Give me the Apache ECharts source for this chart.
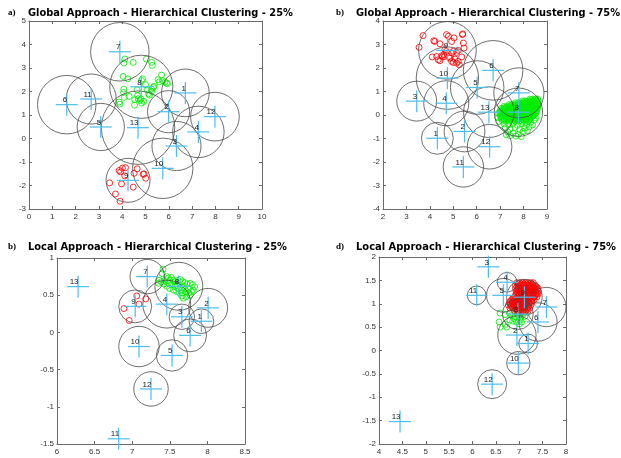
<!DOCTYPE html>
<html>
<head>
<meta charset="utf-8">
<script src="https://cdn.jsdelivr.net/npm/echarts@6/dist/echarts.min.js"></script>
<style>
html,body{margin:0;padding:0;background:#fff;}
#chart{width:621px;height:458px;}
</style>
</head>
<body>
<div id="chart"></div>
<script>
// Cluster centres per panel: [id, x, y, radius]; radius 0 = centre drawn without a circle
const A_CENTERS = [
  [1, 6.71, 1.94, 1.02], [2, 5.99, 1.14, 0.90], [3, 6.33, -0.32, 1.05],
  [4, 7.27, 0.28, 1.10], [5, 3.08, 0.49, 1.01], [6, 1.62, 1.44, 1.25],
  [7, 3.90, 3.69, 1.25], [8, 4.82, 2.20, 1.35], [9, 4.25, -1.78, 0.94],
  [10, 5.74, -1.27, 1.29], [11, 2.67, 1.68, 1.07], [12, 7.98, 0.93, 1.04],
  [13, 4.68, 0.46, 1.57]
];
const B_CENTERS = [
  [1, 4.32, -0.99, 0.68], [2, 5.48, -0.70, 0.87], [3, 3.44, 0.59, 0.85],
  [4, 4.70, 0.50, 0.96], [5, 6.02, 1.17, 1.14], [6, 6.70, 1.90, 1.27],
  [7, 7.80, 0.94, 1.07], [8, 7.78, 0.12, 1.03], [9, 4.75, 2.75, 1.23],
  [10, 4.75, 1.57, 1.33], [11, 5.43, -2.21, 0.86], [12, 6.55, -1.35, 0.95],
  [13, 6.52, 0.12, 1.08]
];
const C_CENTERS = [
  [1, 7.92, 0.15, 0.165], [2, 8.01, 0.33, 0.26], [3, 7.66, 0.21, 0.17],
  [4, 7.46, 0.38, 0.32], [5, 7.53, -0.31, 0.21], [6, 7.77, -0.04, 0.22],
  [7, 7.20, 0.75, 0.23], [8, 7.62, 0.62, 0.32], [9, 7.04, 0.35, 0.22],
  [10, 7.09, -0.19, 0.27], [11, 6.82, -1.43, 0], [12, 7.25, -0.76, 0.23],
  [13, 6.28, 0.615, 0]
];
const D_CENTERS = [
  [1, 7.19, 0.15, 0.20], [2, 6.95, 0.33, 0.41], [3, 6.34, 1.79, 0],
  [4, 6.74, 1.46, 0.21], [5, 6.66, 1.18, 0.36], [6, 7.40, 0.61, 0.41],
  [7, 7.58, 0.93, 0.42], [8, 6.97, 0.78, 0.33], [9, 7.11, 1.14, 0.38],
  [10, 6.98, -0.27, 0.25], [11, 6.09, 1.18, 0.20], [12, 6.42, -0.72, 0.31],
  [13, 4.45, -1.52, 0]
];

// Observations of the two labelled classes
const A_GREEN = [
  [4.11,3.38],[4.07,3.21],[4.47,3.24],[5.04,3.38],[5.26,3.24],[5.29,3.11],
  [4.04,2.64],[4.24,2.54],[4.87,2.54],[4.83,2.47],[5.69,2.70],[5.54,2.50],
  [5.59,2.41],[5.83,2.41],[5.90,2.36],[5.94,2.33],[5.33,2.17],[5.26,2.10],
  [5.00,2.29],[4.64,2.07],[4.07,2.10],[4.06,1.96],[4.09,1.75],[3.87,1.55],
  [3.90,1.46],[4.30,1.79],[4.54,1.65],[4.66,1.82],[4.69,1.69],[4.76,1.62],
  [4.81,1.68],[4.83,1.51],[4.93,1.58],[4.53,1.42],[5.17,1.85],[5.26,2.00],
  [5.36,2.22],[5.07,2.07],[5.13,1.90],[5.73,2.46]
];
const A_RED = [
  [4.14,-1.24],[3.87,-1.36],[3.93,-1.42],[4.01,-1.26],[4.64,-1.29],[4.90,-1.52],
  [4.94,-1.51],[5.01,-1.69],[4.51,-1.48],[3.46,-1.89],[3.97,-1.93],[3.71,-2.36],
  [3.91,-2.67],[4.47,-2.07],[4.11,-1.59]
];
const B_RED = [
  [3.71,3.38],[3.54,2.88],[4.17,3.16],[4.21,3.13],[4.43,3.03],[4.71,3.42],
  [4.79,3.35],[5.40,3.45],[5.39,3.42],[5.03,3.28],[4.93,3.13],[5.43,3.06],
  [5.46,2.85],[5.21,2.75],[5.00,2.71],[4.93,2.64],[4.64,2.78],[4.60,2.57],
  [4.63,2.49],[4.54,2.47],[4.50,2.52],[4.29,2.49],[4.10,2.47],[4.36,2.35],
  [4.43,2.31],[4.86,2.42],[4.93,2.28],[5.07,2.38],[5.21,2.28],[5.36,2.47],
  [5.26,2.13],[5.14,2.21],[5.00,2.24],[4.81,2.49],[5.14,2.66],[4.71,2.71]
];
const B_GREEN = [
  [8.28,0.68],[8.40,0.68],[8.52,0.68],[8.60,0.68],
  [7.95,0.60],[8.07,0.60],[8.19,0.60],[8.31,0.60],[8.43,0.60],[8.55,0.60],[8.63,0.60],
  [7.65,0.52],[7.77,0.52],[7.89,0.52],[8.01,0.52],[8.13,0.52],[8.25,0.52],[8.37,0.52],[8.49,0.52],[8.61,0.52],
  [7.38,0.44],[7.50,0.44],[7.62,0.44],[7.74,0.44],[7.86,0.44],[7.98,0.44],[8.10,0.44],[8.22,0.44],[8.34,0.44],[8.46,0.44],[8.58,0.44],
  [7.16,0.36],[7.28,0.36],[7.40,0.36],[7.52,0.36],[7.64,0.36],[7.76,0.36],[7.88,0.36],[8.00,0.36],[8.12,0.36],[8.24,0.36],[8.36,0.36],[8.48,0.36],[8.60,0.36],
  [7.04,0.28],[7.16,0.28],[7.28,0.28],[7.40,0.28],[7.52,0.28],[7.64,0.28],[7.76,0.28],[7.88,0.28],[8.00,0.28],[8.12,0.28],[8.24,0.28],[8.36,0.28],[8.48,0.28],[8.60,0.28],
  [7.00,0.19],[7.12,0.19],[7.24,0.19],[7.36,0.19],[7.48,0.19],[7.60,0.19],[7.72,0.19],[7.84,0.19],[7.96,0.19],[8.08,0.19],[8.20,0.19],[8.32,0.19],[8.44,0.19],[8.56,0.19],
  [6.98,0.10],[7.10,0.10],[7.22,0.10],[7.34,0.10],[7.46,0.10],[7.58,0.10],[7.70,0.10],[7.82,0.10],[7.94,0.10],[8.06,0.10],[8.18,0.10],[8.30,0.10],[8.42,0.10],[8.54,0.10],
  [7.00,0.01],[7.12,0.01],[7.24,0.01],[7.36,0.01],[7.48,0.01],[7.60,0.01],[7.72,0.01],[7.84,0.01],[7.96,0.01],[8.08,0.01],[8.20,0.01],[8.32,0.01],[8.44,0.01],
  [7.02,-0.08],[7.14,-0.08],[7.26,-0.08],[7.38,-0.08],[7.50,-0.08],[7.62,-0.08],[7.74,-0.08],[7.86,-0.08],[7.98,-0.08],[8.10,-0.08],[8.22,-0.08],[8.34,-0.08],
  [7.05,-0.17],[7.17,-0.17],[7.29,-0.17],[7.41,-0.17],[7.53,-0.17],[7.65,-0.17],[7.77,-0.17],[7.89,-0.17],[8.01,-0.17],[8.13,-0.17],[8.25,-0.17],
  [7.10,-0.26],[7.24,-0.26],[7.38,-0.26],[7.52,-0.26],[7.66,-0.26],[7.80,-0.26],[7.94,-0.26],[8.08,-0.26],[8.20,-0.26],
  [8.34,0.64],[8.46,0.64],[8.01,0.56],[8.13,0.56],[8.25,0.56],[8.37,0.56],[8.49,0.56],[7.71,0.48],[7.83,0.48],
  [7.95,0.48],[8.07,0.48],[8.19,0.48],[8.31,0.48],[8.43,0.48],[8.55,0.48],[7.44,0.40],[7.56,0.40],[7.68,0.40],
  [7.80,0.40],[7.92,0.40],[8.04,0.40],[8.16,0.40],[8.28,0.40],[8.40,0.40],[8.52,0.40],[7.22,0.32],[7.34,0.32],
  [7.46,0.32],[7.58,0.32],[7.70,0.32],[7.82,0.32],[7.94,0.32],[8.06,0.32],[8.18,0.32],[8.30,0.32],[8.42,0.32],
  [8.54,0.32],[7.10,0.23],[7.22,0.23],[7.34,0.23],[7.46,0.23],[7.58,0.23],[7.70,0.23],[7.82,0.23],[7.94,0.23],
  [8.06,0.23],[8.18,0.23],[8.30,0.23],[8.42,0.23],[8.54,0.23],[7.06,0.14],[7.18,0.14],[7.30,0.14],[7.42,0.14],
  [7.54,0.14],[7.66,0.14],[7.78,0.14],[7.90,0.14],[8.02,0.14],[8.14,0.14],[8.26,0.14],[8.38,0.14],[8.50,0.14],
  [7.06,0.05],[7.18,0.05],[7.30,0.05],[7.42,0.05],[7.54,0.05],[7.66,0.05],[7.78,0.05],[7.90,0.05],[8.02,0.05],
  [8.14,0.05],[8.26,0.05],[8.38,0.05],[8.50,0.05],[7.08,-0.04],[7.20,-0.04],[7.32,-0.04],[7.44,-0.04],[7.56,-0.04],
  [7.68,-0.04],[7.80,-0.04],[7.92,-0.04],[8.04,-0.04],[8.16,-0.04],[8.28,-0.04],[8.40,-0.04],[7.11,-0.13],[7.23,-0.13],
  [7.35,-0.13],[7.47,-0.13],[7.59,-0.13],[7.71,-0.13],[7.83,-0.13],[7.95,-0.13],[8.07,-0.13],[8.19,-0.13],[8.31,-0.13],
  [7.17,-0.22],[7.31,-0.22],[7.45,-0.22],[7.59,-0.22],[7.73,-0.22],[7.87,-0.22],[8.01,-0.22],[8.15,-0.22],
  [7.18,-0.38],[7.36,-0.42],[7.55,-0.36],[7.74,-0.44],[7.92,-0.37],[8.12,-0.40],[8.30,-0.31],[8.45,-0.22],[8.52,-0.12],
  [7.22,-0.55],[7.42,-0.60],[7.63,-0.53],[7.84,-0.62],[8.04,-0.56],[8.24,-0.50],[7.32,-0.72],[7.55,-0.78],
  [7.78,-0.82],[7.98,-0.70],[7.42,-0.88],[7.68,-0.90],[7.26,-0.84],[8.16,-0.66],[6.94,-0.28],[6.90,-0.12],
  [6.92,0.06],[8.38,-0.42],[7.90,-0.92]
];
const C_GREEN = [
  [7.41,0.85],[7.40,0.79],[7.36,0.70],[7.35,0.66],[7.39,0.68],[7.43,0.70],
  [7.48,0.73],[7.52,0.74],[7.55,0.70],[7.57,0.68],[7.61,0.70],[7.64,0.71],
  [7.67,0.68],[7.70,0.67],[7.73,0.65],[7.77,0.66],[7.80,0.64],[7.83,0.61],
  [7.81,0.57],[7.79,0.55],[7.75,0.53],[7.72,0.48],[7.68,0.46],[7.66,0.49],
  [7.63,0.53],[7.59,0.55],[7.55,0.57],[7.50,0.59],[7.46,0.62],[7.42,0.65],
  [7.48,0.66],[7.52,0.64],[7.57,0.62],[7.61,0.59],[7.66,0.57],[7.70,0.58],
  [7.75,0.59],[7.72,0.55],[7.67,0.53],[7.77,0.50],[7.46,0.75],[7.50,0.70],
  [7.59,0.65],[7.68,0.62]
];
const C_RED = [
  [7.06,0.49],[7.18,0.45],[7.09,0.38],[6.89,0.32],[6.96,0.16]
];
const D_GREEN = [
  [6.59,0.80],[6.70,0.77],[6.79,0.80],[6.84,0.75],[6.91,0.72],[6.98,0.73],
  [7.03,0.70],[7.09,0.79],[7.12,0.73],[7.02,0.65],[6.94,0.61],[7.00,0.57],
  [7.05,0.61],[6.89,0.68],[6.57,0.61],[6.70,0.56],[6.59,0.50],[6.73,0.50],
  [6.80,0.65],[6.86,0.63],[7.06,0.82],[6.97,0.80]
];
const D_RED = [
  [6.95,1.45],[7.01,1.45],[7.07,1.45],[7.13,1.45],[7.19,1.45],[7.25,1.45],[7.30,1.45],
  [6.92,1.39],[6.98,1.39],[7.04,1.39],[7.10,1.39],[7.16,1.39],[7.22,1.39],[7.28,1.39],[7.34,1.39],
  [6.92,1.33],[6.98,1.33],[7.04,1.33],[7.10,1.33],[7.16,1.33],[7.22,1.33],[7.28,1.33],[7.34,1.33],[7.40,1.33],
  [6.93,1.27],[6.99,1.27],[7.05,1.27],[7.11,1.27],[7.17,1.27],[7.23,1.27],[7.29,1.27],[7.35,1.27],[7.41,1.27],
  [6.93,1.21],[6.99,1.21],[7.05,1.21],[7.11,1.21],[7.17,1.21],[7.23,1.21],[7.29,1.21],[7.35,1.21],[7.40,1.21],
  [6.90,1.15],[6.96,1.15],[7.02,1.15],[7.08,1.15],[7.14,1.15],[7.20,1.15],[7.26,1.15],[7.32,1.15],[7.38,1.15],
  [6.84,1.09],[6.90,1.09],[6.96,1.09],[7.02,1.09],[7.08,1.09],[7.14,1.09],[7.20,1.09],[7.26,1.09],[7.32,1.09],
  [6.79,1.03],[6.85,1.03],[6.91,1.03],[6.97,1.03],[7.03,1.03],[7.09,1.03],[7.15,1.03],[7.21,1.03],[7.27,1.03],
  [6.77,0.97],[6.83,0.97],[6.89,0.97],[6.95,0.97],[7.01,0.97],[7.07,0.97],[7.13,0.97],[7.19,0.97],[7.25,0.97],
  [6.80,0.91],[6.86,0.91],[6.92,0.91],[6.98,0.91],[7.04,0.91],[7.10,0.91],[7.16,0.91],[7.22,0.91],
  [6.90,0.85],[6.96,0.85],[7.02,0.85],[7.08,0.85],[7.14,0.85],[7.19,0.85],
  [6.98,1.42],[7.04,1.42],[7.10,1.42],[7.16,1.42],[7.22,1.42],[7.28,1.42],[6.95,1.36],[7.01,1.36],
  [7.07,1.36],[7.13,1.36],[7.19,1.36],[7.25,1.36],[7.31,1.36],[7.37,1.36],[6.96,1.30],[7.02,1.30],
  [7.08,1.30],[7.14,1.30],[7.20,1.30],[7.26,1.30],[7.32,1.30],[7.38,1.30],[6.96,1.24],[7.02,1.24],
  [7.08,1.24],[7.14,1.24],[7.20,1.24],[7.26,1.24],[7.32,1.24],[7.38,1.24],[6.93,1.18],[6.99,1.18],
  [7.05,1.18],[7.11,1.18],[7.17,1.18],[7.23,1.18],[7.29,1.18],[7.35,1.18],[6.87,1.12],[6.93,1.12],
  [6.99,1.12],[7.05,1.12],[7.11,1.12],[7.17,1.12],[7.23,1.12],[7.29,1.12],[6.82,1.06],[6.88,1.06],
  [6.94,1.06],[7.00,1.06],[7.06,1.06],[7.12,1.06],[7.18,1.06],[7.24,1.06],[6.80,1.00],[6.86,1.00],
  [6.92,1.00],[6.98,1.00],[7.04,1.00],[7.10,1.00],[7.16,1.00],[7.22,1.00],[6.83,0.94],[6.89,0.94],
  [6.95,0.94],[7.01,0.94],[7.07,0.94],[7.13,0.94],[7.19,0.94],[6.93,0.88],[6.99,0.88],[7.05,0.88],
  [7.11,0.88],[7.17,0.88]
];

// Axis ranges: [xmin, xmax, xstep, ymin, ymax, ystep]
const A_RANGE = [0, 10, 1, -3, 5, 1];
const B_RANGE = [2, 9, 1, -4, 4, 1];
const C_RANGE = [6, 8.5, 0.5, -1.5, 1, 0.5];
const D_RANGE = [4, 8, 0.5, -2, 2, 0.5];

const TITLES = [
  'Global Approach - Hierarchical Clustering - 25%',
  'Global Approach - Hierarchical Clustering - 75%',
  'Local Approach - Hierarchical Clustering - 25%',
  'Local Approach - Hierarchical Clustering - 75%'
];
const TAGS = ['a)', 'b)', 'b)', 'd)'];

const PANELS = [
  { centers: A_CENTERS, green: A_GREEN, red: A_RED, range: A_RANGE,
    box: { left: 29, top: 21, width: 233, height: 188 } },
  { centers: B_CENTERS, green: B_GREEN, red: B_RED, range: B_RANGE,
    box: { left: 383, top: 21, width: 164, height: 188 } },
  { centers: C_CENTERS, green: C_GREEN, red: C_RED, range: C_RANGE,
    box: { left: 57, top: 258, width: 188, height: 186 } },
  { centers: D_CENTERS, green: D_GREEN, red: D_RED, range: D_RANGE,
    box: { left: 379, top: 257, width: 187, height: 187 } }
];

const AXIS_COLOR = '#6a6a6a';
const CROSS_COLOR = '#4DBEEE';
const CIRCLE_COLOR = '#4a4a4a';
const TICK_FONT = { fontSize: 8, color: '#333', fontFamily: 'Liberation Sans, Arial, sans-serif' };
const HEAD_FAMILY = '"DejaVu Sans", Verdana, sans-serif';

function makeAxis(kind, idx, pos, min, max, step, showLabels) {
  return {
    type: 'value', gridIndex: idx, position: pos, min: min, max: max, interval: step,
    splitLine: { show: false },
    axisLine: { show: true, onZero: false, lineStyle: { color: AXIS_COLOR, width: 1 } },
    axisTick: { show: true, inside: true, length: 3, lineStyle: { color: AXIS_COLOR } },
    axisLabel: Object.assign({ show: showLabels, margin: kind === 'x' ? 4 : 3 }, TICK_FONT)
  };
}

function renderCircle(params, api) {
  const r = api.value(2);
  if (!r) return null;
  const c = api.coord([api.value(0), api.value(1)]);
  const s = api.size([r, r]);
  return {
    type: 'circle',
    shape: { cx: c[0], cy: c[1], r: (s[0] + s[1]) / 2 },
    style: { fill: 'none', stroke: CIRCLE_COLOR, lineWidth: 0.8 }
  };
}

function renderCross(params, api) {
  const c = api.coord([api.value(0), api.value(1)]);
  const h = 11;
  return {
    type: 'group',
    children: [
      { type: 'line', shape: { x1: c[0] - h, y1: c[1], x2: c[0] + h, y2: c[1] },
        style: { stroke: CROSS_COLOR, lineWidth: 1.2 } },
      { type: 'line', shape: { x1: c[0], y1: c[1] - h, x2: c[0], y2: c[1] + h },
        style: { stroke: CROSS_COLOR, lineWidth: 1.2 } },
      { type: 'text', x: c[0] + 0.5, y: c[1] - 4.5,
        style: { text: String(api.value(3)), align: 'right', verticalAlign: 'middle',
                 fill: '#222', fontSize: 8, fontFamily: 'Liberation Sans, Arial, sans-serif' } }
    ]
  };
}

const grid = [], xAxis = [], yAxis = [], series = [];
PANELS.forEach(function (p, i) {
  grid.push(Object.assign({ show: false }, p.box));
  const r = p.range;
  xAxis.push(makeAxis('x', i, 'bottom', r[0], r[1], r[2], true));
  xAxis.push(makeAxis('x', i, 'top', r[0], r[1], r[2], false));
  yAxis.push(makeAxis('y', i, 'left', r[3], r[4], r[5], true));
  yAxis.push(makeAxis('y', i, 'right', r[3], r[4], r[5], false));
  const xi = i * 2, yi = i * 2;
  const rows = p.centers.map(function (c) { return [c[1], c[2], c[3], c[0]]; });
  series.push({
    type: 'scatter', xAxisIndex: xi, yAxisIndex: yi, data: p.green, symbol: 'circle', symbolSize: 6,
    itemStyle: { color: 'rgba(0,0,0,0)', borderColor: '#00ee00', borderWidth: 1 }, silent: true, z: 2
  });
  series.push({
    type: 'scatter', xAxisIndex: xi, yAxisIndex: yi, data: p.red, symbol: 'circle', symbolSize: 6,
    itemStyle: { color: 'rgba(0,0,0,0)', borderColor: '#ff0000', borderWidth: 1 }, silent: true, z: 2
  });
  series.push({
    type: 'custom', xAxisIndex: xi, yAxisIndex: yi, data: rows, renderItem: renderCircle, silent: true, z: 3
  });
  series.push({
    type: 'custom', xAxisIndex: xi, yAxisIndex: yi, data: rows, renderItem: renderCross, silent: true, z: 4
  });
});

// Panel headings, squeezed horizontally to their target widths
const HEAD_POS = [[8, 28, 13], [336, 356, 13], [8, 28, 247], [336, 356, 247]];
const HEAD_WIDTH = [265, 264, 259, 260];
const measure = document.createElement('canvas').getContext('2d');
measure.font = 'bold 10px ' + HEAD_FAMILY;
const graphic = [];
TITLES.forEach(function (t, i) {
  const hp = HEAD_POS[i];
  const natural = measure.measureText(t).width || HEAD_WIDTH[i];
  graphic.push({
    type: 'text', x: hp[0], y: hp[2],
    style: { text: TAGS[i], fontSize: 9, fontWeight: 'bold',
             fontFamily: '"Liberation Serif", "Times New Roman", serif',
             fill: '#000', verticalAlign: 'middle' }
  });
  graphic.push({
    type: 'text', x: hp[1], y: hp[2], scaleX: Math.min(1.1, HEAD_WIDTH[i] / natural),
    style: { text: t, fontSize: 10, fontWeight: 'bold', fontFamily: HEAD_FAMILY,
             fill: '#000', verticalAlign: 'middle' }
  });
});

const chart = echarts.init(document.getElementById('chart'), null, { renderer: 'canvas' });
chart.setOption({
  animation: false,
  backgroundColor: '#fff',
  grid: grid, xAxis: xAxis, yAxis: yAxis, series: series, graphic: graphic
});
</script>
</body>
</html>
